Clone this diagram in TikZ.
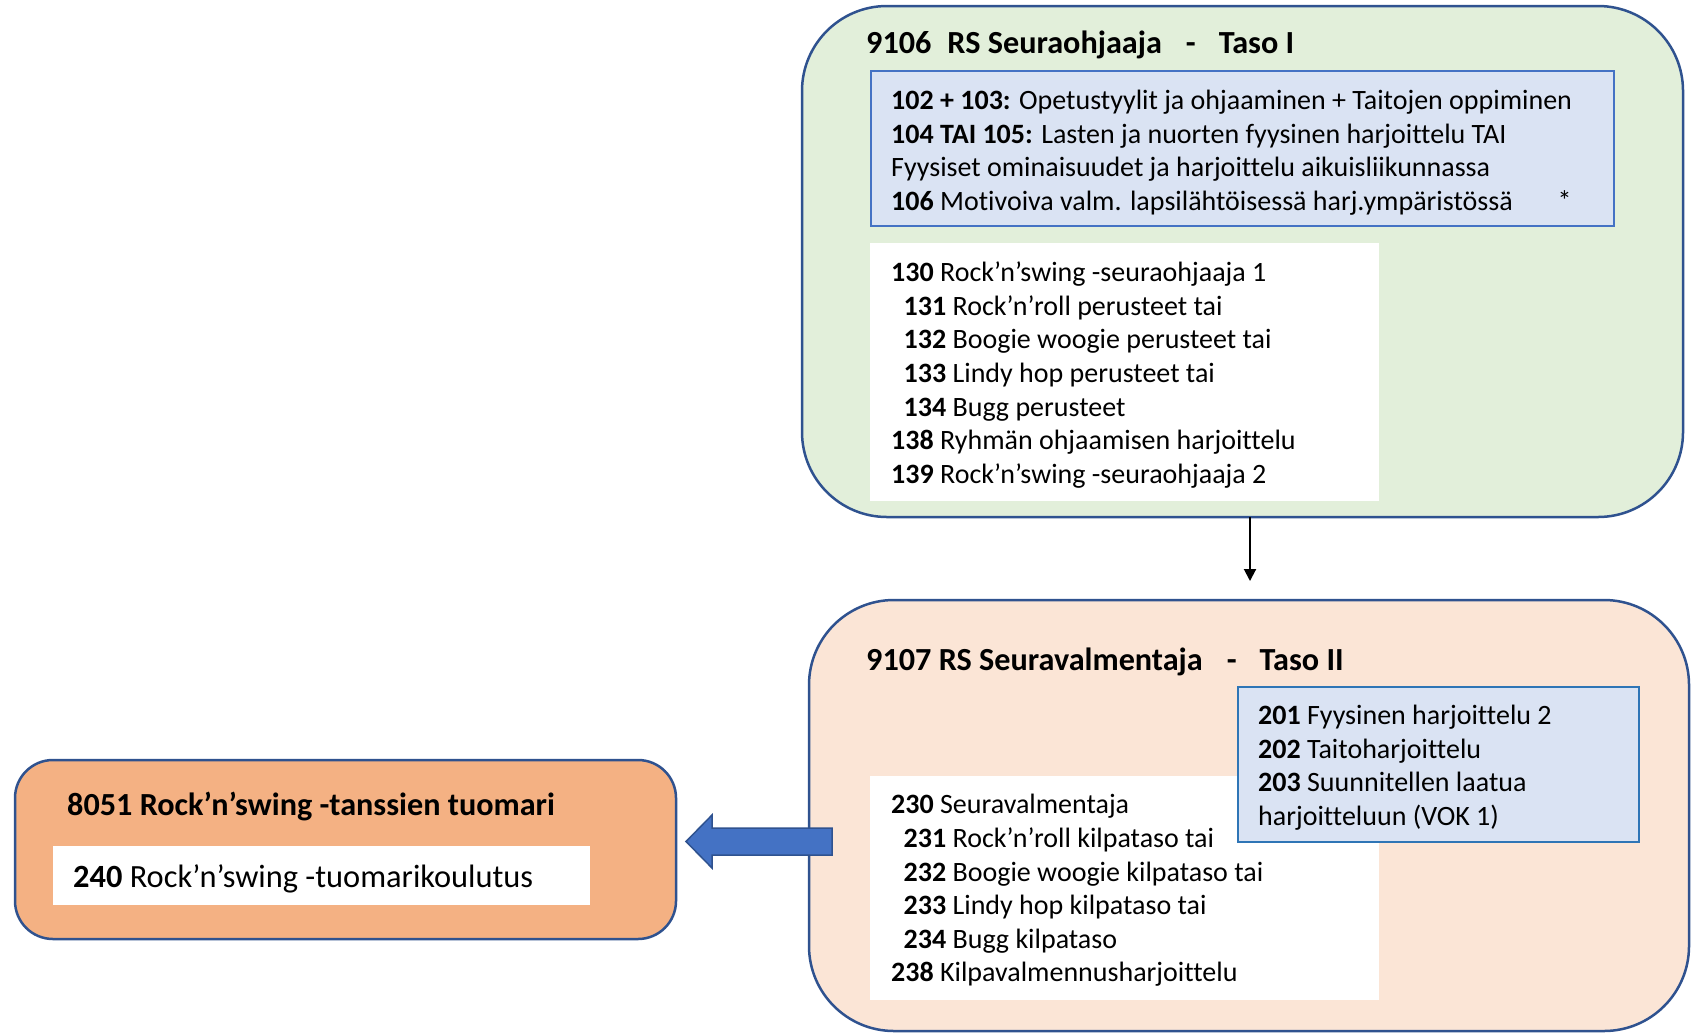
\documentclass[tikz,border=0pt]{standalone}
\usepackage{fontspec}
\setmainfont{Carlito}[Ligatures=NoCommon]
\usetikzlibrary{arrows.meta,calc}
\definecolor{grnfill}{HTML}{E2EFDA}
\definecolor{edge}{HTML}{2F528F}
\definecolor{bluefill}{HTML}{DAE3F3}
\definecolor{blueedge}{HTML}{4472C4}
\definecolor{blueedgeb}{HTML}{2E75B6}
\definecolor{peach}{HTML}{FBE5D6}
\definecolor{orng}{HTML}{F4B183}
\definecolor{arrblue}{HTML}{4472C4}
\newcommand\subind{\hspace*{12.5bp}}
\tikzset{
  bigbox/.style={draw=edge, line width=2.5bp, rounded corners=85bp, anchor=north west, inner sep=0, outer sep=0},
  bluebox/.style={draw=blueedge, fill=bluefill, line width=2bp, anchor=north west, inner sep=0, outer sep=0},
  whitebox/.style={fill=white, anchor=north west, inner sep=0, outer sep=0},
  body/.style={font=\fontsize{28bp}{33.6bp}\selectfont, align=left, anchor=west, inner sep=0},
  ttl/.style={font=\fontsize{32.2bp}{38bp}\selectfont\bfseries, anchor=west, inner sep=0},
  downarrow/.style={line width=2bp, -{Triangle[length=12bp,width=12bp]}},
  blockarrow/.style={fill=arrblue, draw=edge, line width=1.5bp}
}
\begin{document}
\begin{tikzpicture}[x=1bp,y=-1bp]
\useasboundingbox (0,0) rectangle (1694,1033);
% level boxes
\node[bigbox, fill=grnfill, minimum width=881bp, minimum height=511bp] (g) at (802,6) {};
\node[bigbox, fill=peach, minimum width=880bp, minimum height=431bp] (p) at (809,600) {};
\node[bigbox, rounded corners=38bp, fill=orng, minimum width=661bp, minimum height=179bp] (o) at (15,760) {};
% inner boxes
\node[bluebox, minimum width=743bp, minimum height=155bp] (b1) at (871,71) {};
\node[whitebox, minimum width=509bp, minimum height=258bp] (w1) at (870,243) {};
\node[whitebox, minimum width=509bp, minimum height=224bp] (w2) at (870,776) {};
\node[bluebox, draw=blueedgeb, minimum width=401bp, minimum height=155bp] (b2) at (1238,687) {};
\node[whitebox, minimum width=537bp, minimum height=59bp] (w3) at (53,846) {};
% titles
\node[ttl] (h1) at (866,45) {9106\hspace{16bp}RS Seuraohjaaja\hspace{24bp}-\hspace{23bp}Taso I};
\node[ttl] (h2) at (866,662) {9107 RS Seuravalmentaja\hspace{24bp}-\hspace{23bp}Taso II};
\node[ttl] (h3) at (67,807) {8051 Rock’n’swing -tanssien tuomari};
% texts
\node[body] (t1) at (891,152.5) {\textbf{102 + 103:} Opetustyylit ja ohjaaminen + Taitojen oppiminen\\
\textbf{104 TAI 105:} Lasten ja nuorten fyysinen harjoittelu TAI\\
Fyysiset ominaisuudet ja harjoittelu aikuisliikunnassa\\
\textbf{106} Motivoiva valm. lapsilähtöisessä harj.ympäristössä\hspace{45bp}*};
\node[body] (t2) at (891,375) {\textbf{130} Rock’n’swing -seuraohjaaja 1\\
\subind\textbf{131} Rock’n’roll perusteet tai\\
\subind\textbf{132} Boogie woogie perusteet tai\\
\subind\textbf{133} Lindy hop perusteet tai\\
\subind\textbf{134} Bugg perusteet\\
\textbf{138} Ryhmän ohjaamisen harjoittelu\\
\textbf{139} Rock’n’swing -seuraohjaaja 2};
\node[body] (t3) at (891,890.5) {\textbf{230} Seuravalmentaja\\
\subind\textbf{231} Rock’n’roll kilpataso tai\\
\subind\textbf{232} Boogie woogie kilpataso tai\\
\subind\textbf{233} Lindy hop kilpataso tai\\
\subind\textbf{234} Bugg kilpataso\\
\textbf{238} Kilpavalmennusharjoittelu};
\node[body] (t4) at (1258,767.5) {\textbf{201} Fyysinen harjoittelu 2\\
\textbf{202} Taitoharjoittelu\\
\textbf{203} Suunnitellen laatua\\
harjoitteluun (VOK 1)};
\node[body, font=\fontsize{32.4bp}{38bp}\selectfont] (t5) at (73,879) {\textbf{240} Rock’n’swing -tuomarikoulutus};
% connectors
\coordinate (dn) at (1250,581);
\draw[downarrow] (g.south -| dn) -- (dn);
\coordinate (ar) at (832,841.5);
\coordinate (at) at (686,841.5);
\draw[blockarrow] ($(ar)+(0,-13.5)$) -- ($(at)+(26,-13.5)$) -- ($(at)+(26,-26.5)$) -- (at) -- ($(at)+(26,26.5)$) -- ($(at)+(26,13.5)$) -- ($(ar)+(0,13.5)$) -- cycle;
\end{tikzpicture}
\end{document}
